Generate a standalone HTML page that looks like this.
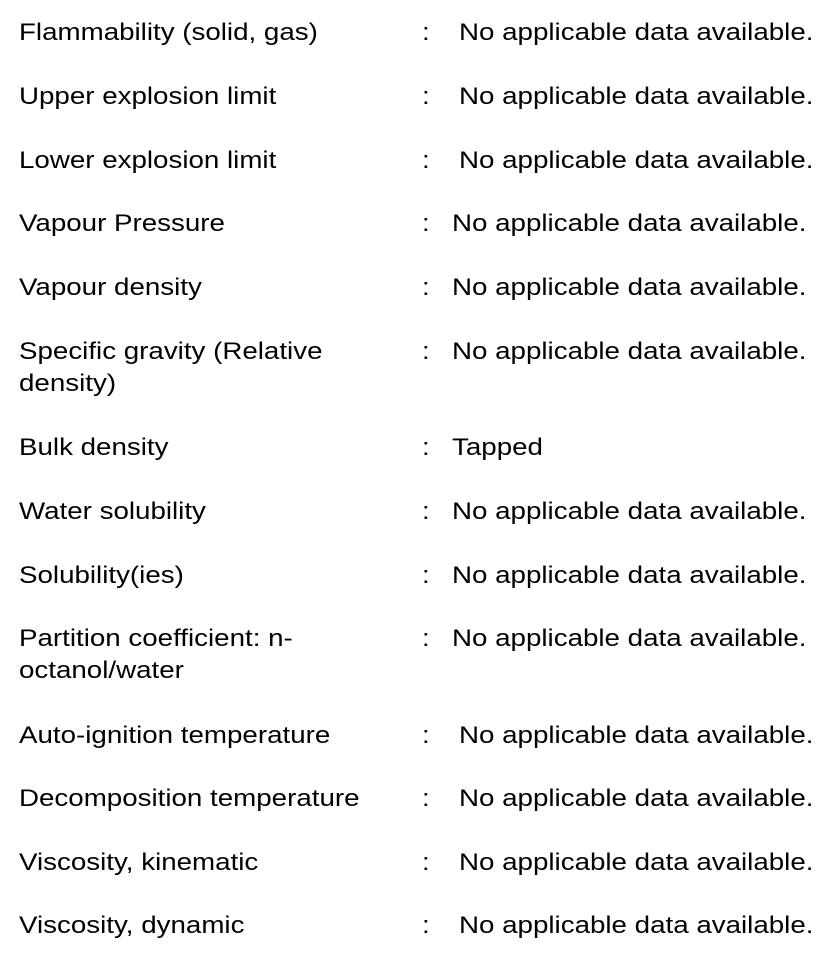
<!DOCTYPE html>
<html>
<head>
<meta charset="utf-8">
<style>
html,body{margin:0;padding:0;background:#fff;}
body{width:827px;height:954px;position:relative;overflow:hidden;font-family:"Liberation Sans",Arial,sans-serif;font-size:24px;color:#000;}
.t{position:absolute;line-height:32px;white-space:nowrap;transform:scaleX(1.155);transform-origin:0 50%;}
</style>
</head>
<body>
<div id="c"></div>
<script>
const labels=["Flammability (solid, gas)","Upper explosion limit","Lower explosion limit","Vapour Pressure","Vapour density","Specific gravity (Relative|density)","Bulk density","Water solubility","Solubility(ies)","Partition coefficient: n-|octanol/water","Auto-ignition temperature","Decomposition temperature","Viscosity, kinematic","Viscosity, dynamic"];
const values=["No applicable data available.","No applicable data available.","No applicable data available.","No applicable data available.","No applicable data available.","No applicable data available.","Tapped","No applicable data available.","No applicable data available.","No applicable data available.","No applicable data available.","No applicable data available.","No applicable data available.","No applicable data available."];
const centers=[33,97,161,224,288,352,448,512,576,639,736,799,863,926];
const valueX=[459,459,459,452,452,452,452,452,452,452,459,459,459,459];
const c=document.getElementById('c');
labels.forEach((lab,i)=>{
  const top=centers[i]-16;
  const lines=lab.split('|');
  lines.forEach((ln,j)=>{
    const d=document.createElement('div');
    d.className='t';d.style.left='19px';d.style.top=(top+j*32)+'px';d.textContent=ln;
    
    
    c.appendChild(d);
  });
  const k=document.createElement('div');
  k.className='t';k.style.left='422px';k.style.top=top+'px';k.textContent=':';
  
  
  c.appendChild(k);
  const v=document.createElement('div');
  v.className='t';v.style.left=valueX[i]+'px';v.style.top=top+'px';v.textContent=values[i];
  
  
  c.appendChild(v);
});
</script>
</body>
</html>
